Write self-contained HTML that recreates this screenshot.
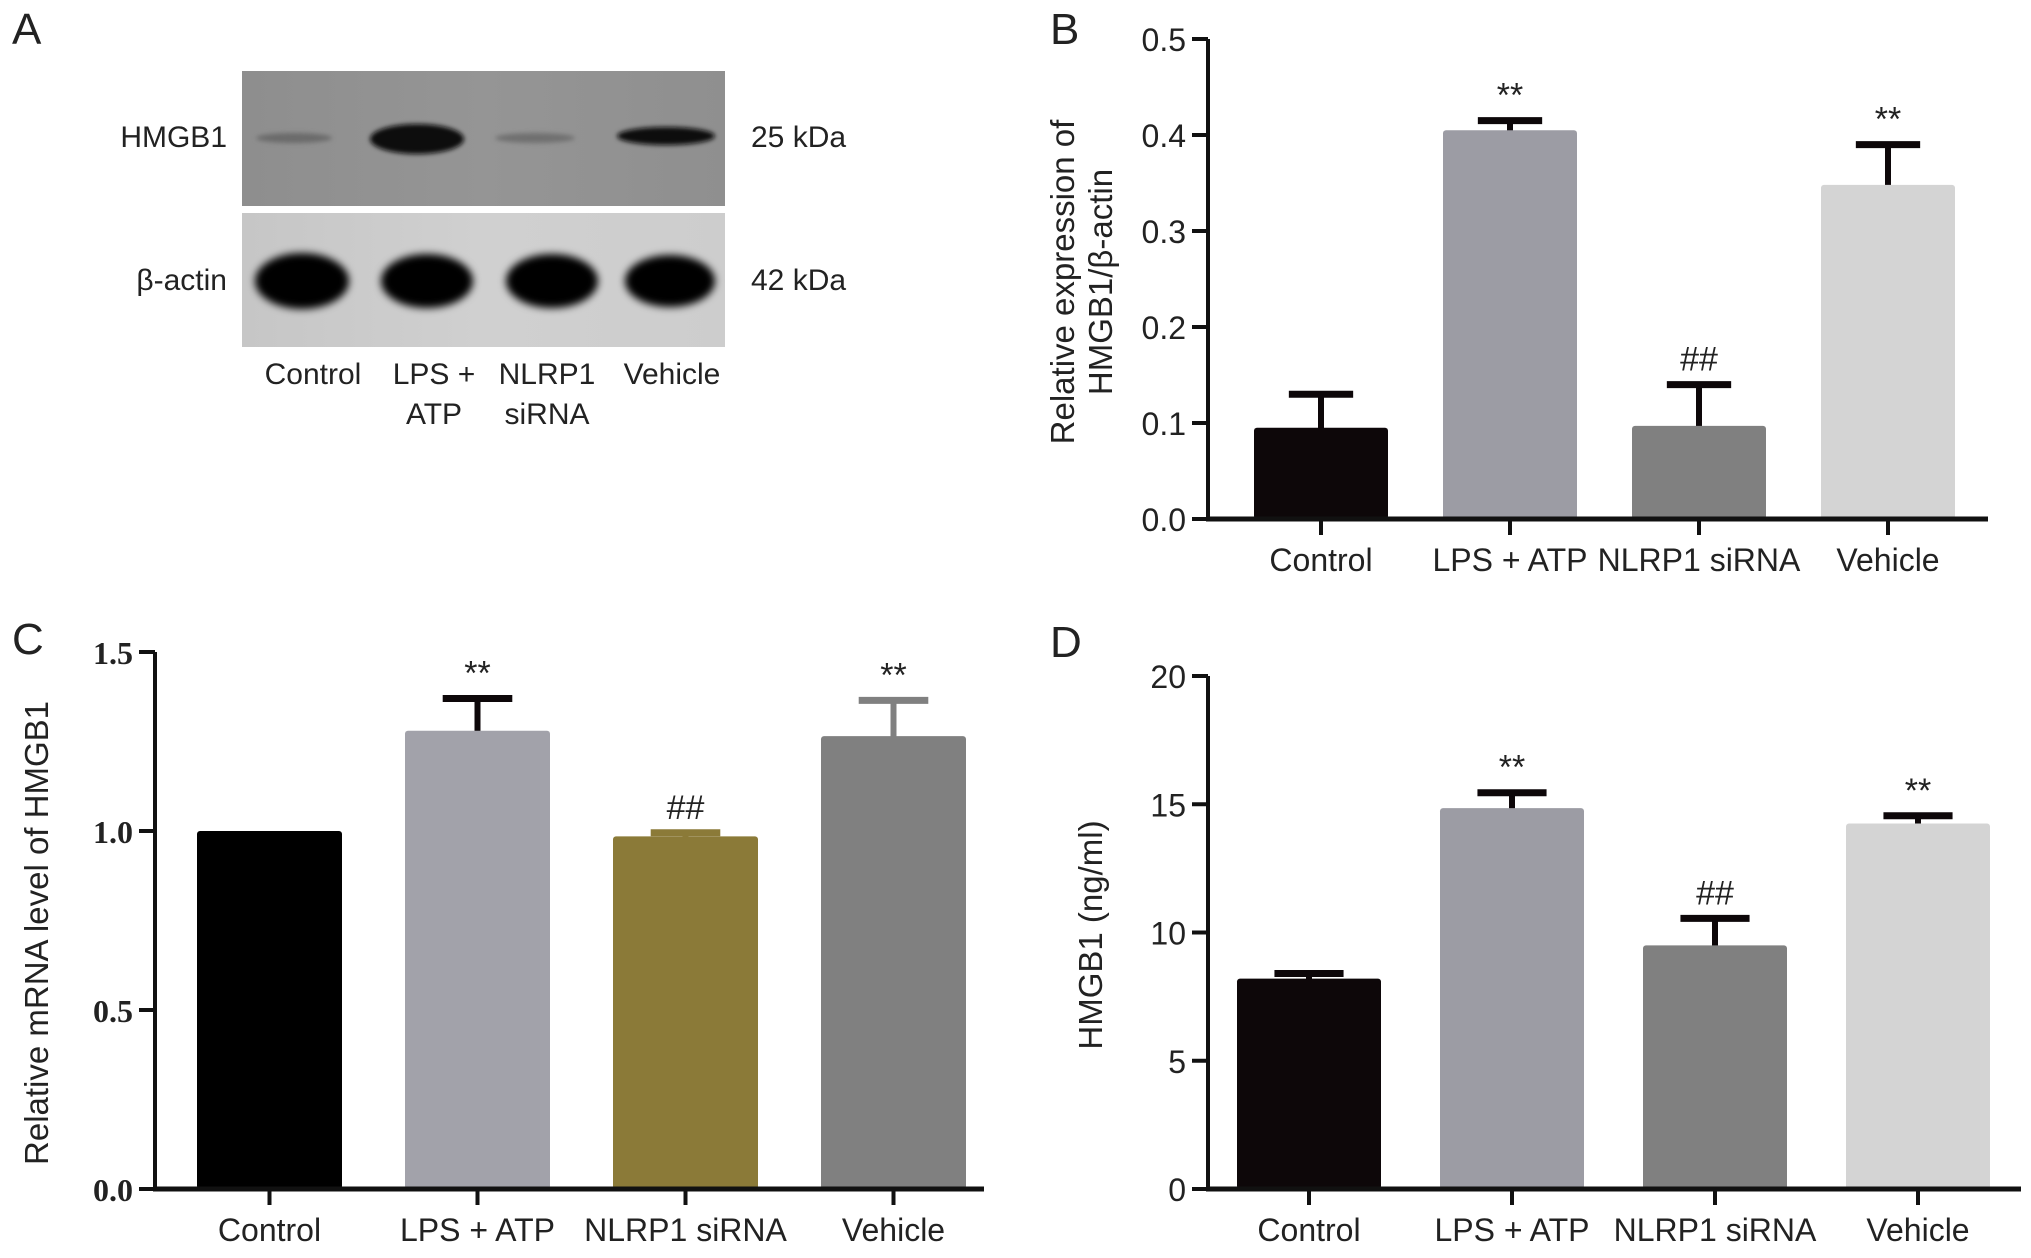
<!DOCTYPE html>
<html><head><meta charset="utf-8"><style>
html,body{margin:0;padding:0;background:#fff}
svg{display:block}
text{font-family:"Liberation Sans",sans-serif;fill:#222}
</style></head><body>
<svg id="fig" width="2031" height="1258" viewBox="0 0 2031 1258" xmlns="http://www.w3.org/2000/svg">
<defs>
<filter id="blur4" x="-30%" y="-80%" width="160%" height="260%"><feGaussianBlur stdDeviation="4"/></filter>
<filter id="blur2" x="-30%" y="-80%" width="160%" height="260%"><feGaussianBlur stdDeviation="2.5"/></filter>
<linearGradient id="g1" x1="0" x2="1"><stop offset="0" stop-color="#8e8e8e"/><stop offset="0.5" stop-color="#959595"/><stop offset="1" stop-color="#8f8f8f"/></linearGradient>
<linearGradient id="g2" x1="0" x2="1"><stop offset="0" stop-color="#c6c6c6"/><stop offset="0.5" stop-color="#d0d0d0"/><stop offset="1" stop-color="#cdcdcd"/></linearGradient>
</defs>
<g>
<text x="12" y="44" font-size="44">A</text>
<rect x="242" y="71" width="483" height="135" fill="url(#g1)"/>
<rect x="242" y="213" width="483" height="134" fill="url(#g2)"/>
<g filter="url(#blur2)">
<ellipse cx="294" cy="138" rx="38" ry="5" fill="#6a6a6a"/>
<ellipse cx="417" cy="139" rx="47" ry="15" fill="#0a0a0a"/>
<ellipse cx="535" cy="138" rx="40" ry="5" fill="#707070"/>
<ellipse cx="666" cy="136" rx="49" ry="9" fill="#0a0a0a"/>
</g>
<g filter="url(#blur4)">
<ellipse cx="302" cy="281" rx="47" ry="28" fill="#000"/>
<ellipse cx="427" cy="281" rx="46" ry="27" fill="#000"/>
<ellipse cx="552" cy="281" rx="46" ry="27" fill="#000"/>
<ellipse cx="670" cy="281" rx="45" ry="26" fill="#000"/>
</g>
<text x="227" y="147" font-size="30" text-anchor="end">HMGB1</text>
<text x="227" y="290" font-size="30" text-anchor="end">β-actin</text>
<text x="751" y="147" font-size="30">25 kDa</text>
<text x="751" y="290" font-size="30">42 kDa</text>
<g font-size="30" text-anchor="middle">
<text x="313" y="384">Control</text>
<text x="434" y="384">LPS +</text>
<text x="434" y="424">ATP</text>
<text x="547" y="384">NLRP1</text>
<text x="547" y="424">siRNA</text>
<text x="672" y="384">Vehicle</text>
</g>
</g>
<g id="charts"></g>
</svg>
<script>
const categories = ["Control", "LPS + ATP", "NLRP1 siRNA", "Vehicle"];
const bMeans = [0.095, 0.405, 0.097, 0.348];
const bErrors = [0.035, 0.01, 0.043, 0.042];
const bMarks = ["", "**", "##", "**"];
const bTicks = ["0.0", "0.1", "0.2", "0.3", "0.4", "0.5"];
const cMeans = [1.0, 1.28, 0.985, 1.265];
const cErrors = [0, 0.09, 0.01, 0.1];
const cMarks = ["", "**", "##", "**"];
const cTicks = ["0.0", "0.5", "1.0", "1.5"];
const dMeans = [8.2, 14.85, 9.5, 14.25];
const dErrors = [0.2, 0.6, 1.05, 0.3];
const dMarks = ["", "**", "##", "**"];
const dTicks = ["0", "5", "10", "15", "20"];

const NS = "http://www.w3.org/2000/svg";
const root = document.getElementById('charts');
function mk(tag, attrs, parent, txt) {
  const e = document.createElementNS(NS, tag);
  for (const k in attrs) e.setAttribute(k, attrs[k]);
  if (txt !== undefined) e.textContent = txt;
  parent.appendChild(e);
  return e;
}
function panel(cfg) {
  const g = mk('g', {}, root);
  
  
  const ymax = parseFloat(cfg.ticks[cfg.ticks.length - 1]);
  const y = v => cfg.y0 - (v / ymax) * (cfg.y0 - cfg.yTop);
  const x = i => cfg.x1 + cfg.pad + i * cfg.step;
  cfg.means.forEach((m, i) => {
    const bx = x(i), top = y(m), et = y(m + cfg.errs[i]);
    const cx = bx + cfg.bw / 2;
    if (cfg.errs[i] > 0) {
      const el = mk('line', {x1: cx, x2: cx, y1: top + 4, y2: et, stroke: cfg.errColors[i], 'stroke-width': 6}, g);
      
      
      const cap = mk('line', {x1: cx - cfg.bw * 0.24, x2: cx + cfg.bw * 0.24, y1: et, y2: et, stroke: cfg.errColors[i], 'stroke-width': 7}, g);
      
      
    }
    const r = mk('rect', {x: bx, y: top, width: cfg.bw, height: cfg.y0 - top, fill: cfg.colors[i], rx: 3}, g);
    
    
    if (cfg.marks[i]) {
      const t = mk('text', {x: cx, y: et - 14, 'font-size': 34, 'text-anchor': 'middle', fill: '#111'}, g, cfg.marks[i]);
      
      
    }
    const tk = mk('line', {x1: cx, x2: cx, y1: cfg.y0, y2: cfg.y0 + 16, stroke: '#111', 'stroke-width': 4}, g);
    
    
    const lb = mk('text', {x: cx, y: cfg.y0 + 52, 'font-size': 32, 'text-anchor': 'middle'}, g, categories[i]);
    
    
  });
  const ya = mk('line', {x1: cfg.x1, x2: cfg.x1, y1: cfg.yTop, y2: cfg.y0 + 2, stroke: '#111', 'stroke-width': 4}, g);
  
  
  const xa = mk('line', {x1: cfg.x1 - 2, x2: cfg.x2, y1: cfg.y0, y2: cfg.y0, stroke: '#111', 'stroke-width': 5}, g);
  
  
  cfg.ticks.forEach(t => {
    const v = parseFloat(t), yy = y(v);
    const l = mk('line', {x1: cfg.x1 - 16, x2: cfg.x1, y1: yy, y2: yy, stroke: '#111', 'stroke-width': 4}, g);
    
    
    const tx = mk('text', {x: cfg.x1 - 22, y: yy + 12, 'font-size': cfg.tickSize, 'text-anchor': 'end', style: cfg.tickStyle || ''}, g, t);
    
    
  });
  cfg.title.forEach((line, k) => {
    const tx = cfg.titleX + k * 38, cy = cfg.titleY;
    const t = mk('text', {x: tx, y: cy, 'font-size': 33, 'text-anchor': 'middle', transform: `rotate(-90 ${tx} ${cy})`}, g, line);
    
    
  });
  const pl = mk('text', {x: cfg.labelX, y: cfg.labelY, 'font-size': 44}, g, cfg.letter);
  
  
}
panel({name: 'panel-b-chart', letter: 'B', labelX: 1050, labelY: 44, x1: 1208, x2: 1988, y0: 519, yTop: 39,
  pad: 46, step: 189, bw: 134, means: bMeans, errs: bErrors, marks: bMarks, ticks: bTicks, tickSize: 32,
  colors: ['#0d0709', '#9c9ca4', '#808080', '#d4d4d4'], errColors: ['#0d0709', '#0d0709', '#0d0709', '#0d0709'],
  title: ['Relative expression of', 'HMGB1/β-actin'], titleX: 1074, titleY: 282});
panel({name: 'panel-c-chart', letter: 'C', labelX: 12, labelY: 654, x1: 155, x2: 984, y0: 1189, yTop: 652,
  pad: 42, step: 208, bw: 145, means: cMeans, errs: cErrors, marks: cMarks, ticks: cTicks, tickSize: 32,
  tickStyle: 'font-family:"Liberation Serif",serif;font-weight:bold',
  colors: ['#000000', '#a2a2aa', '#8b7a38', '#808080'], errColors: ['#000', '#0d0709', '#8b7a38', '#808080'],
  title: ['Relative mRNA level of HMGB1'], titleX: 48, titleY: 933});
panel({name: 'panel-d-chart', letter: 'D', labelX: 1050, labelY: 657, x1: 1208, x2: 2021, y0: 1189, yTop: 676,
  pad: 29, step: 203, bw: 144, means: dMeans, errs: dErrors, marks: dMarks, ticks: dTicks, tickSize: 32,
  colors: ['#0d0709', '#9c9ca4', '#808080', '#d4d4d4'], errColors: ['#0d0709', '#0d0709', '#0d0709', '#0d0709'],
  title: ['HMGB1 (ng/ml)'], titleX: 1102, titleY: 935});
</script>
</body></html>
